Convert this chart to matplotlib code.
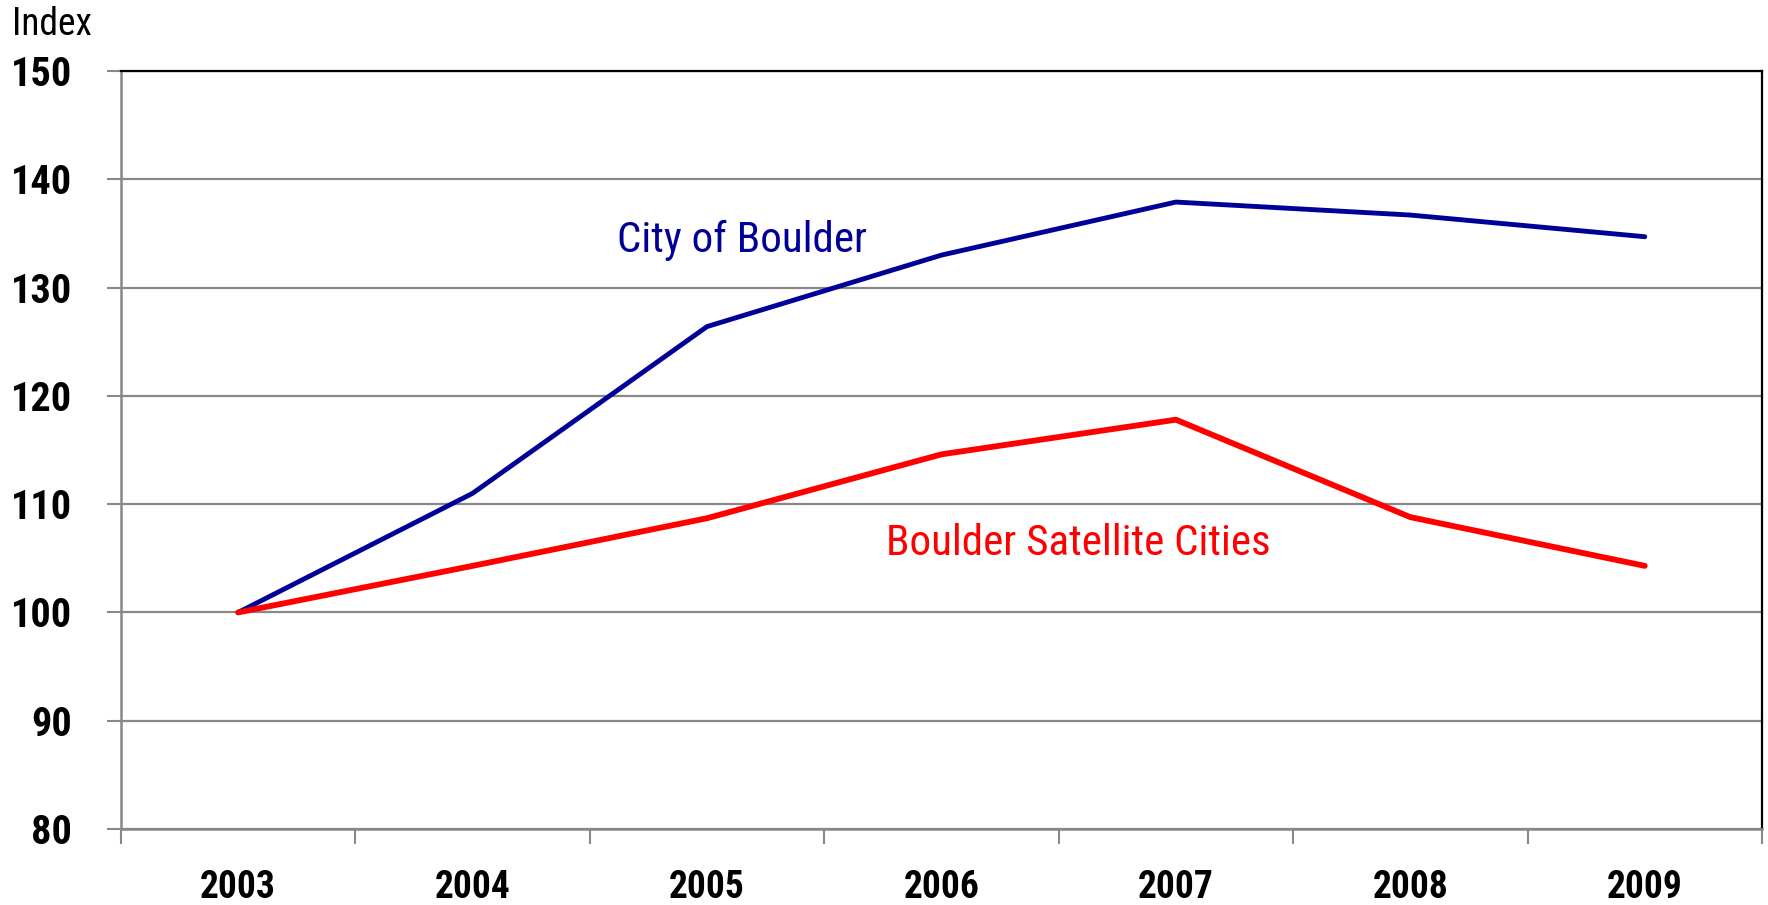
import numpy as np
import matplotlib.pyplot as plt

# dados
anos = ['2003', '2004', '2005', '2006', '2007', '2008', '2009']
boulder = [100.0, 111.0, 126.4, 133.0, 137.9, 136.7, 134.7]
satelites = [100.0, 104.3, 108.7, 114.6, 117.8, 108.8, 104.3]
y_ticks = [80, 90, 100, 110, 120, 130, 140, 150]

# fonte estreita parecida com Arial Narrow
fonte = ['Roboto Condensed', 'Liberation Sans', 'DejaVu Sans']
plt.rcParams['font.family'] = fonte

fig = plt.figure(figsize=(17.68, 9.05), dpi=100)
ax = fig.add_axes([0.0684, 0.084, 0.9282, 0.8375])

x = np.arange(len(anos))
ax.plot(x, boulder, color='#000099', lw=3.5, solid_capstyle='round', zorder=3)
ax.plot(x, satelites, color='#ff0000', lw=4.2, solid_capstyle='round', zorder=3)

ax.set_xlim(-0.5, len(anos) - 0.5)
ax.set_ylim(80, 150)

# grade horizontal
ax.set_yticks(y_ticks)
ax.set_yticklabels([str(v) for v in y_ticks], fontsize=29, fontweight='bold')
ax.yaxis.grid(True, color='#888888', lw=1.6)
ax.set_axisbelow(True)

# ticks entre as categorias, rotulos no centro
ax.set_xticks(np.arange(-0.5, len(anos), 1.0))
ax.set_xticklabels([])
ax.set_xticks(x, minor=True)
ax.set_xticklabels(anos, minor=True, fontsize=27, fontweight='bold')
ax.tick_params(axis='x', which='minor', length=0, pad=29)
ax.tick_params(axis='x', which='major', length=11, width=1.5, color='#888888')
ax.tick_params(axis='y', length=10, width=1.5, color='#888888', pad=25)

for s in ['left', 'bottom']:
    ax.spines[s].set_color('#888888')
    ax.spines[s].set_linewidth(1.8)
for s in ['top', 'right']:
    ax.spines[s].set_color('black')
    ax.spines[s].set_linewidth(1.6)

ax.text(2.15, 133.3, 'City of Boulder', color='#000099', fontsize=31,
        ha='center', va='baseline')
ax.text(3.585, 105.3, 'Boulder Satellite Cities', color='#ff0000', fontsize=31,
        ha='center', va='baseline')

fig.text(0.007, 0.973, 'Index', fontsize=27, ha='left', va='center')

fig.savefig('out.png', dpi=100)
